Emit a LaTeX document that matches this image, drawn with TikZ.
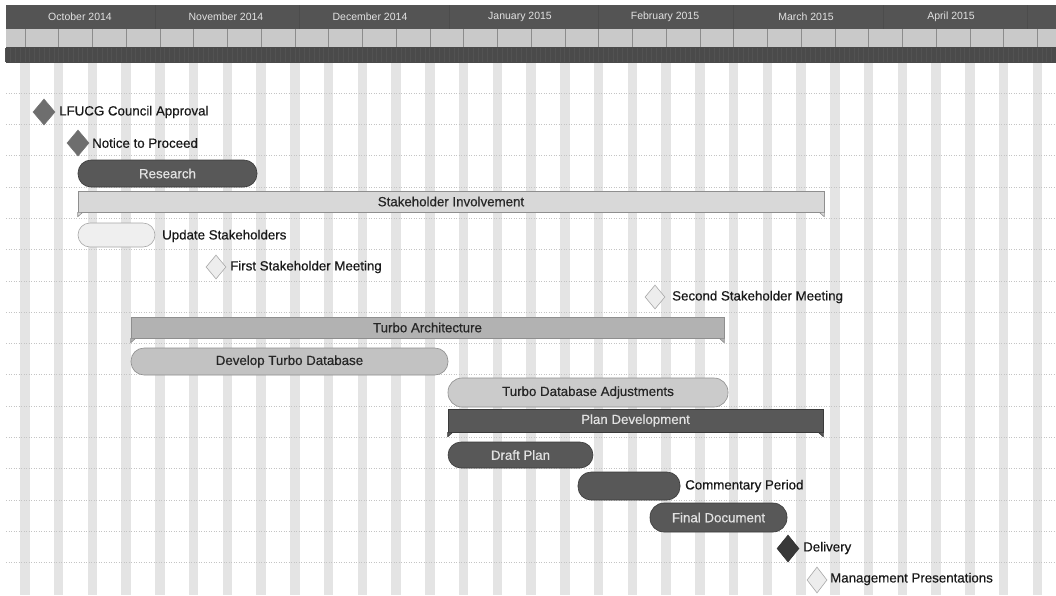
\documentclass[tikz,border=0pt]{standalone}
\usepackage{fontspec}
\setmainfont{Liberation Sans}
\newfontfamily\heavyfont[FakeBold=0.5]{Liberation Sans}
\usetikzlibrary{shapes.geometric}
\definecolor{hdrdark}{HTML}{545454}
\definecolor{hdrlight}{HTML}{C9C9C9}
\definecolor{hdrbot}{HTML}{4A4A4A}
\definecolor{hdrbotline}{HTML}{525252}
\definecolor{stripe}{HTML}{E4E4E4}
\definecolor{rowline}{HTML}{C4C4C4}
\definecolor{darkbar}{HTML}{585858}
\definecolor{darkedge}{HTML}{3A3A3A}
\definecolor{lighttxt}{HTML}{E2E2E2}
\definecolor{sifill}{HTML}{D8D8D8}
\definecolor{usfill}{HTML}{EFEFEF}
\definecolor{tafill}{HTML}{B2B2B2}
\definecolor{dtdfill}{HTML}{C2C2C2}
\definecolor{tdafill}{HTML}{CBCBCB}
\definecolor{midedge}{HTML}{8E8E8E}
\definecolor{msfill}{HTML}{6E6E6E}
\definecolor{delfill}{HTML}{383838}
\definecolor{lmsfill}{HTML}{EDEDED}
\definecolor{lmsedge}{HTML}{A8A8A8}
\tikzset{
  txt/.style={font=\heavyfont\fontsize{13.3}{15}\selectfont, text=black!90, inner sep=0pt},
  lbl/.style={txt, anchor=west},
  pill/.style={rectangle, rounded corners=12pt, inner sep=0pt, line width=0.6pt, font=\heavyfont\fontsize{13.3}{15}\selectfont},
  darkpill/.style={pill, fill=darkbar, draw=darkedge, text=lighttxt},
  summary/.style={rectangle, inner sep=0pt, line width=0.6pt, font=\heavyfont\fontsize{13.3}{15}\selectfont, text=black!85},
  ms/.style={diamond, inner sep=0pt, minimum width=22pt, minimum height=26pt, line width=0.6pt},
  month/.style={font=\fontsize{10.5}{12}\selectfont, text=lighttxt, inner sep=0pt}
}
\begin{document}
\begin{tikzpicture}[x=1pt,y=-1pt]
\useasboundingbox (0,0) rectangle (1056,595);
\fill[white] (0,0) rectangle (1056,595);
% weekend stripes
\foreach \k in {0,...,31} \fill[stripe] ({20+33.75*\k},63) rectangle ++(9.6,532);
% row lines
\foreach \k in {0,...,15} \draw[rowline, dotted, line width=0.5pt] (6,{93+31.3*\k}) -- (1056,{93+31.3*\k});
% header
\fill[hdrdark] (6,5) rectangle (1056,29);
\fill[hdrlight] (6,29) rectangle (1056,47);
\fill[hdrbot] (6,47) rectangle (1056,63);
\foreach \k in {0,...,218} \draw[hdrbotline, line width=0.4pt] ({5.5+4.82*\k},48) -- ({5.5+4.82*\k},62);
\foreach \k in {0,...,30} \draw[black!45, line width=0.6pt] ({24.8+33.75*\k},29) -- ({24.8+33.75*\k},47);
\foreach \x in {155,299.5,449,598,733,883,1027} \draw[black!70, line width=0.6pt] (\x,5) -- (\x,29);
\node[month] (m1) at (80,17) {October 2014};
\node[month] (m2) at (226,17) {November 2014};
\node[month] (m3) at (370,17) {December 2014};
\node[month] (m4) at (520,17) {January 2015};
\node[month] (m5) at (665,17) {February 2015};
\node[month] (m6) at (806,17) {March 2015};
\node[month] (m7) at (951,17) {April 2015};
% milestones
\node[ms, fill=msfill, draw=black!55] (lfucg) at (44,112) {};
\node[lbl] (lfucgl) at (59,112) {LFUCG Council Approval};
\node[ms, fill=msfill, draw=black!55] (ntp) at (78,143) {};
\node[lbl] (ntpl) at (92,143) {Notice to Proceed};
% research
\node[darkpill, minimum width=179pt, minimum height=27pt, rounded corners=13pt] (res) at (167.5,173.5) {Research};
% stakeholder involvement
\node[summary, fill=sifill, draw=midedge, minimum width=746pt, minimum height=21pt] (si) at (451,201.5) {Stakeholder Involvement};
\fill[sifill, draw=midedge, line width=0.6pt, line join=round] (si.south west) -- ++(0,4.5) -- ++(5,-4.5) -- cycle;
\fill[sifill, draw=midedge, line width=0.6pt, line join=round] (si.south east) -- ++(0,4.5) -- ++(-5,-4.5) -- cycle;
% update stakeholders
\node[pill, fill=usfill, draw=lmsedge, minimum width=77pt, minimum height=24pt] (us) at (116.5,235) {};
\node[lbl] (usl) at (162,236) {Update Stakeholders};
\node[ms, fill=lmsfill, draw=lmsedge, minimum width=20pt, minimum height=24pt] (fsm) at (216,267) {};
\node[lbl] (fsml) at (230,267) {First Stakeholder Meeting};
\node[ms, fill=lmsfill, draw=lmsedge, minimum width=20pt, minimum height=24pt] (ssm) at (655,297) {};
\node[lbl] (ssml) at (672,297) {Second Stakeholder Meeting};
% turbo architecture
\node[summary, fill=tafill, draw=midedge, minimum width=593pt, minimum height=21pt] (ta) at (427.5,327.5) {Turbo Architecture};
\fill[tafill, draw=midedge, line width=0.6pt, line join=round] (ta.south west) -- ++(0,4.5) -- ++(5,-4.5) -- cycle;
\fill[tafill, draw=midedge, line width=0.6pt, line join=round] (ta.south east) -- ++(0,4.5) -- ++(-5,-4.5) -- cycle;
\node[pill, fill=dtdfill, draw=midedge, text=black!85, minimum width=317pt, minimum height=27pt, rounded corners=13pt] (dtd) at (289.5,361.5) {Develop Turbo Database};
\node[pill, fill=tdafill, draw=midedge, text=black!85, minimum width=280pt, minimum height=29pt, rounded corners=14pt] (tda) at (588,392.5) {Turbo Database Adjustments};
% plan development
\node[summary, fill=darkbar, draw=darkedge, text=lighttxt, minimum width=375pt, minimum height=23pt] (pd) at (635.5,420.5) {Plan Development};
\fill[darkbar, draw=darkedge, line width=0.6pt, line join=round] (pd.south west) -- ++(0,4.5) -- ++(5,-4.5) -- cycle;
\fill[darkbar, draw=darkedge, line width=0.6pt, line join=round] (pd.south east) -- ++(0,4.5) -- ++(-5,-4.5) -- cycle;
\node[darkpill, minimum width=145pt, minimum height=26pt, rounded corners=13pt] (dp) at (520.5,455) {Draft Plan};
\node[darkpill, minimum width=102pt, minimum height=28pt, rounded corners=13pt] (cp) at (629,486) {};
\node[lbl] (cpl) at (685,486) {Commentary Period};
\node[darkpill, minimum width=137pt, minimum height=29pt, rounded corners=14pt] (fd) at (718.5,517.5) {Final Document};
\node[ms, fill=delfill, draw=black!80, minimum width=22pt, minimum height=27pt] (del) at (788,548.5) {};
\node[lbl] (dell) at (803,548) {Delivery};
\node[ms, fill=lmsfill, draw=lmsedge, minimum width=20pt, minimum height=26pt] (mp) at (817,580) {};
\node[lbl] (mpl) at (830,579) {Management Presentations};
\end{tikzpicture}
\end{document}
